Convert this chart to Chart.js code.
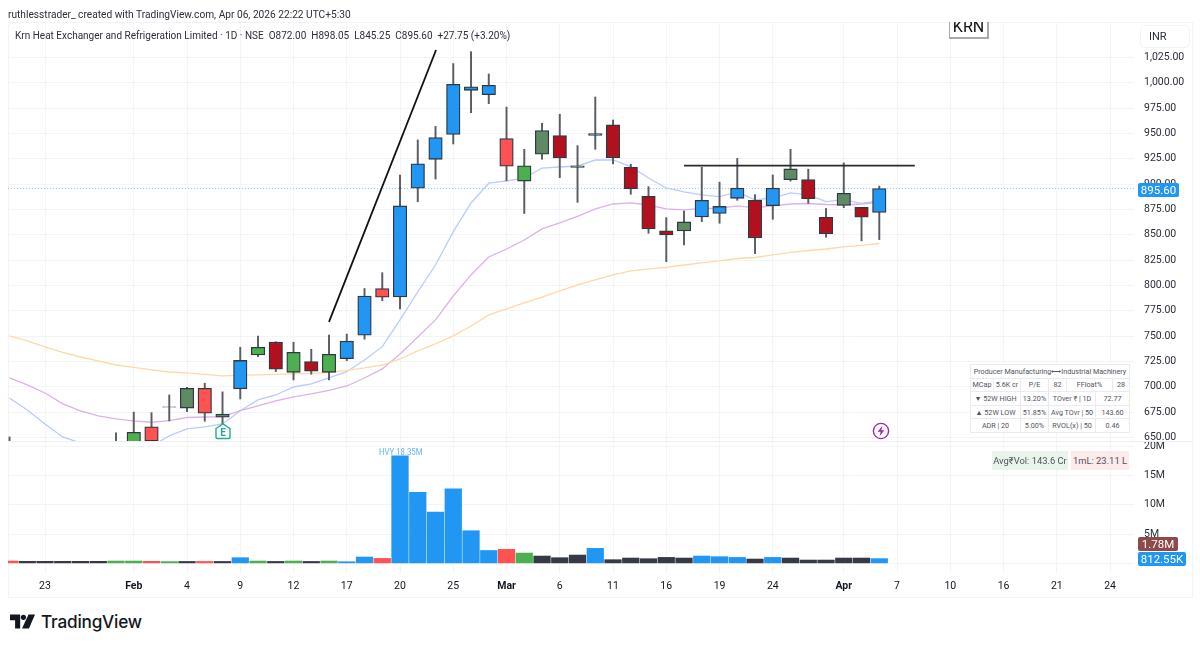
<!DOCTYPE html>
<html>
<head>
<meta charset="utf-8">
<script src="https://cdn.jsdelivr.net/npm/chart.js@4/dist/chart.umd.min.js"></script>
<style>
html,body{margin:0;padding:0;background:#fff;width:1200px;height:647px;overflow:hidden;font-family:Roboto,sans-serif;color:#131722}
canvas{position:absolute;left:0}
#frame{position:absolute;left:8px;top:22px;width:1183px;height:574px;border:1px solid #f0f3fa;box-sizing:content-box}
#sep{position:absolute;left:8px;top:441px;width:1184px;height:1px;background:#eceef2}
.t{position:absolute;white-space:nowrap;transform-origin:left center}
#credit{left:8px;top:7px;font-size:11.5px;color:#2a2e39;transform:scaleX(.884)}
#head{left:15px;top:29px;font-size:11px;color:#2a2e39;transform:scaleX(.91)}
#inr{left:1140px;top:25px;width:48px;height:21px;line-height:21px;border:1px solid #f0f3fa;border-radius:5px;font-size:11px;text-indent:8px;color:#2a2e39;box-sizing:content-box}
#krn{left:949px;top:22px;width:37px;height:15px;overflow:hidden;border:1px solid #aaa;border-top:none;border-bottom:2px solid #aaa;border-right:2px solid #aaa;text-align:center;font-size:16px;line-height:10px;color:#111;background:#fff}
.tag{position:absolute;color:#fff;font-size:11.5px;text-align:center;border-radius:2px}
#pTag{left:1138px;top:183px;width:41px;height:14px;line-height:14px;background:#2196f3}
#vA{left:1138px;top:537px;width:40px;height:14px;line-height:14px;background:#8d4a4a}
#vB{left:1138px;top:552px;width:48px;height:14px;line-height:14px;background:#2196f3}
#hvy{left:379px;top:446px;font-size:9.5px;color:#64b5f6;transform:scaleX(.82)}
#info{position:absolute;left:970px;top:364px;width:159px;height:69px;border-collapse:collapse;table-layout:fixed;font-size:7.2px;color:#50535e;background:#fff}
#info td{border:1px solid #e9ebef;text-align:center;padding:0;white-space:nowrap;overflow:hidden}
.badge{position:absolute;top:451px;height:19px;line-height:19px;text-align:center;font-size:9.4px;color:#50535e;white-space:nowrap}
#b1{left:992px;width:76px;background:#e9f5ea}
#b2{left:1071px;width:58px;background:#fdeaea}
#logoText{left:41px;top:611px;font-size:17.2px;font-weight:500;color:#131722;font-family:Inter,Roboto,sans-serif;letter-spacing:-.2px}
svg{position:absolute}
</style>
</head>
<body>
<div id="frame"></div>
<canvas id="price" width="1200" height="460" style="top:0"></canvas>
<canvas id="vol" width="1200" height="167" style="top:430px"></canvas>
<div id="sep"></div>
<div class="t" id="credit">ruthlesstrader_ created with TradingView.com, Apr 06, 2026 22:22 UTC+5:30</div>
<div class="t" id="head">Krn Heat Exchanger and Refrigeration Limited · 1D · NSE&nbsp; O872.00&nbsp; H898.05&nbsp; L845.25&nbsp; C895.60&nbsp; +27.75 (+3.20%)</div>
<div class="t" id="inr">INR</div>
<div class="t" id="krn">KRN</div>
<div class="tag" id="pTag">895.60</div>
<div class="tag" id="vA">1.78M</div>
<div class="tag" id="vB">812.55K</div>
<div class="t" id="hvy">HVY 18.35M</div>
<table id="info">
<colgroup><col style="width:23px"><col style="width:27px"><col style="width:28px"><col style="width:18px"><col style="width:29px"><col style="width:17px"><col style="width:17px"></colgroup>
<tr><td colspan="7">Producer Manufacturing⟷Industrial Machinery</td></tr>
<tr><td>MCap</td><td>5.6K cr</td><td>P/E</td><td>82</td><td colspan="2">FFloat%</td><td>28</td></tr>
<tr><td colspan="2">▼ 52W HIGH</td><td>13.20%</td><td colspan="2">TOver ₹ | 1D</td><td colspan="2">72.77</td></tr>
<tr><td colspan="2">▲ 52W LOW</td><td>51.85%</td><td colspan="2">Avg TOvr | 50</td><td colspan="2">143.60</td></tr>
<tr><td colspan="2">ADR | 20</td><td>5.00%</td><td colspan="2">RVOL(x) | 50</td><td colspan="2">0.46</td></tr>
</table>
<div class="badge" id="b1">Avg₹Vol: 143.6 Cr</div>
<div class="badge" id="b2">1mL: 23.11 L</div>
<svg style="left:214px;top:422px" width="18" height="18" viewBox="0 0 18 18"><path d="M2 6.5 L9 1.8 L16 6.5 V15 Q16 16.5 14.5 16.5 H3.5 Q2 16.5 2 15 Z" fill="#fff" stroke="#22ab94" stroke-width="1.4"/><text x="9" y="14" text-anchor="middle" font-size="10" font-weight="700" font-family="Roboto" fill="#22ab94">E</text></svg>
<svg style="left:872px;top:422px" width="18" height="18" viewBox="0 0 18 18"><circle cx="9" cy="9" r="7.6" fill="#fff" stroke="#9c27b0" stroke-width="1.4"/><path d="M10.4 3.8 L5.6 9.8 H8.6 L7.6 14.2 L12.4 8.2 H9.4 Z" fill="#9c27b0"/></svg>
<svg style="left:10px;top:614px" width="25" height="16" viewBox="0 0 27 16"><path d="M0 0 H11 V15 H5.5 V6 H0 Z" fill="#131722"/><circle cx="14.5" cy="3" r="2.8" fill="#131722"/><path d="M20 0 H27 L20.5 15 H13 Z" fill="#131722"/></svg>
<div class="t" id="logoText">TradingView</div>

<script>
const tickIndex = [2,7,10,13,16,19,22,25,28,31,34,37,40,43,47,50,53,56,59,62];
const tickLabels = ['23','Feb','4','9','12','17','20','25','Mar','6','11','16','19','24','Apr','7','10','16','21','24'];
const boldLabels = ['Feb','Mar','Apr'];
const priceTicks = [650,675,700,725,750,775,800,825,850,875,900,925,950,975,1000,1025];
const volumeTicks = [0,5,10,15,20];

const open  = [640,640,640,640,640,640,635,640,660.5,680.2,679,698.5,670,698,731.5,744,714.3,725,714.3,727.8,751,797,788.6,896,924.5,949,992.6,988.3,945,903,929.5,948,916.6,948,958.4,916.6,888,854,853.8,867.6,871,886,884,878.7,904.4,904.4,867.3,879,877,872];
const high  = [650.5,640,640,640,640,642,654.5,675,674.5,692,699.5,703.5,695,739,750,744.5,744,737,751,752,797,812.6,909,943.6,957,1019,1030.7,1008.7,976,934.4,960,969,938,986,963.3,919.6,897.5,867,873.5,916.6,902,925.5,889.6,909,934.4,914.7,876,921,877,898.05];
const low   = [630,630,630,630,630,630,630,635,641,666.3,675.5,666,663.5,688,729.7,715,706.7,712.4,706.7,725.8,747,785,776.8,882.7,905,939.6,970.5,979.4,903.4,871,924.5,906.4,882,934.4,920,890,851.5,823.5,840,863,861.4,884,831.4,865.3,903,881,847.6,876.8,844,845.25];
const close = [635,636,636,636,636,638,640,655,646.5,679.8,698.5,674,673,726,739,717.3,734,715.3,732,745,789.6,788.4,878.5,920,946,998.5,996,997.5,917.6,918,952.8,925.8,918,950,926,895.5,855.8,849.8,862.7,884,878,896,847,896,915,885.7,851,891,867.3,895.6];
const bodyTone = ['x','x','x','x','x','x','x','g','r','x','m','r','m','b','g','c','g','c','g','b','b','r','b','b','b','b','b','b','r','g','m','c','m','b','c','c','c','c','m','b','b','b','c','b','m','c','c','m','c','b'];

const volumeM = [0.4,0.35,0.35,0.35,0.35,0.35,0.4,0.4,0.35,0.3,0.33,0.33,0.33,0.97,0.4,0.33,0.4,0.33,0.4,0.28,1.08,0.85,18.35,12.1,8.76,12.7,5.57,2.2,2.4,1.76,1.25,0.97,1.42,2.56,0.63,0.91,0.8,1.02,0.91,1.25,1.14,1.02,0.74,1.02,0.91,0.57,0.57,0.91,0.91,0.81];
const volumeTone = ['r','d','d','d','d','d','g','g','r','g','d','r','d','b','g','d','g','d','g','b','b','r','b','b','b','b','b','b','r','g','d','d','d','b','d','d','d','d','d','b','b','b','d','b','d','d','d','d','d','b'];

const maFast = [689,677.1,663.3,650.5,644.6,638.7,635.7,635.7,641.6,651.5,658.4,660.4,663.3,676.4,687,691.9,699.8,702.8,708.7,714.9,726.5,739.6,766,793.6,820.2,853.1,881.4,900.9,903.1,906.1,915.7,916.9,917.9,923.8,923.8,917.2,906.1,896.2,892.3,889.3,887.6,892.3,884.4,886.3,891.3,889.3,882.7,884.4,881.1,883.4];
const maMid  = [708.7,701.8,693.9,683.1,676.2,671.2,668.3,666.3,665,666.6,669.7,670.2,670.5,676.4,681.1,686,690,692.9,696.4,700.8,708.7,717.6,732.4,749.2,766,789.6,810.4,828.1,836,844.9,855.8,861.7,868.1,875.5,880.4,881.4,879.4,875.5,874.5,876,876,878.5,876.5,878.5,880.4,880.9,879.9,879.4,880.4,881.9];
const maSlow = [750.2,745.2,739.3,733.9,729.4,725.5,721.5,719.1,716.6,714.6,713.7,712.2,710.7,711.2,711.7,712.2,712.7,713.2,714.1,716.1,718.6,721.5,727.5,735.4,742.3,750.2,760,770.9,776.8,782.7,788.6,794.6,800.5,805.4,810.4,814.3,816.3,817.8,820.2,822.2,824.2,826.6,827.6,830.1,832.6,834.5,836,838,839.5,841.4];

const rallyLine = [[18,764],[24.03,1032.4]];
const resistanceLine = [[38,918.2],[51,918.2]];
const lastPrice = 895.6;

const bodyColor = {b:'#2196f3',g:'#4caf50',r:'#ff5252',c:'#b2101f',m:'#5f8a64',x:'#555b60'};
const volColor = {b:'#2196f3',g:'#4caf50',r:'#ff5252',d:'#363a45'};
const xMin = -0.085, xMax = 63.35;
const pts = a => a.map((v,i)=>({x:i,y:v}));
const seg = a => a.map(p=>({x:p[0],y:p[1]}));
const setTicks = vals => s => { s.ticks = vals.map(v=>({value:v})); };
const noPad = s => { s.paddingTop=0; s.paddingBottom=0; s.paddingLeft=0; s.paddingRight=0; };
const gridC = '#f3f4f7';
const axisFamily = 'Roboto,sans-serif';

function xScale(showLabels){
  return {
    type:'linear',min:xMin,max:xMax,offset:false,
    afterBuildTicks:setTicks(tickIndex),
    afterFit:s=>{s.height = showLabels?24:0; noPad(s);},
    border:{display:false},
    grid:{color:gridC,drawTicks:false,offset:false},
    ticks:{display:showLabels,autoSkip:false,maxRotation:0,padding:7,color:'#131722',
      font:c=>{const l=tickLabels[tickIndex.indexOf(c.tick&&c.tick.value)];return {family:axisFamily,size:10.5,weight:boldLabels.includes(l)?'700':'400'};},
      callback:v=>tickLabels[tickIndex.indexOf(v)]}
  };
}
function yScale(min,max,vals,fmt){
  return {
    position:'right',min,max,
    afterBuildTicks:setTicks(vals),
    afterFit:s=>{s.width=58; noPad(s);},
    border:{display:false},
    grid:{color:gridC,drawTicks:false},
    ticks:{autoSkip:false,padding:10,align:'center',crossAlign:'near',color:'#2a2e39',font:{family:axisFamily,size:10.5},callback:fmt}
  };
}
const base = {responsive:false,animation:false,devicePixelRatio:1,
  plugins:{legend:{display:false},tooltip:{enabled:false}},events:[]};
const line = (data,color,order,w,extra)=>Object.assign({type:'line',data,borderColor:color,borderWidth:w,pointRadius:0,tension:0,order,clip:0},extra||{});

new Chart(document.getElementById('price'),{
  type:'bar',
  data:{datasets:[
    line(pts(maSlow),'#ffd9a3',5,1.3),
    line(pts(maMid),'#dcb2e6',5,1.3),
    line(pts(maFast),'#b9cbff',5,1.3),
    line(seg([[xMin,lastPrice],[xMax,lastPrice]]),'#90caf9',6,1,{borderDash:[1,2]}),
    {type:'bar',data:high.map((h,i)=>({x:i,y:[low[i],h]})),backgroundColor:'#5a5e64',barThickness:1.3,grouped:false,order:3,clip:0,borderWidth:0},
    {type:'bar',data:open.map((o,i)=>({x:i,y:[o,close[i]]})),backgroundColor:bodyTone.map(t=>bodyColor[t]),borderColor:'#2f3a40',borderWidth:1.3,borderSkipped:false,barThickness:13.5,grouped:false,order:2,clip:0},
    line(seg(rallyLine),'#111',1,1.8),
    line(seg(resistanceLine),'#2a2a2a',1,1.8)
  ]},
  options:Object.assign({},base,{
    layout:{padding:{left:8,right:8,top:22,bottom:19}},
    scales:{x:xScale(false),y:yScale(646.5,1060,priceTicks,v=>v.toLocaleString('en-US',{minimumFractionDigits:2,maximumFractionDigits:2}))}
  })
});

new Chart(document.getElementById('vol'),{
  type:'bar',
  data:{datasets:[
    {data:pts(volumeM).map(p=>({x:p.x,y:[0,p.y]})),backgroundColor:volumeTone.map(t=>volColor[t]),barThickness:16.6,grouped:false,clip:0,borderWidth:0}
  ]},
  options:Object.assign({},base,{
    layout:{padding:{left:8,right:8,top:11,bottom:0}},
    scales:{x:xScale(true),y:yScale(-1.64,20.87,volumeTicks,v=>v===0?'':v+'M')}
  })
});
</script>
</body>
</html>
